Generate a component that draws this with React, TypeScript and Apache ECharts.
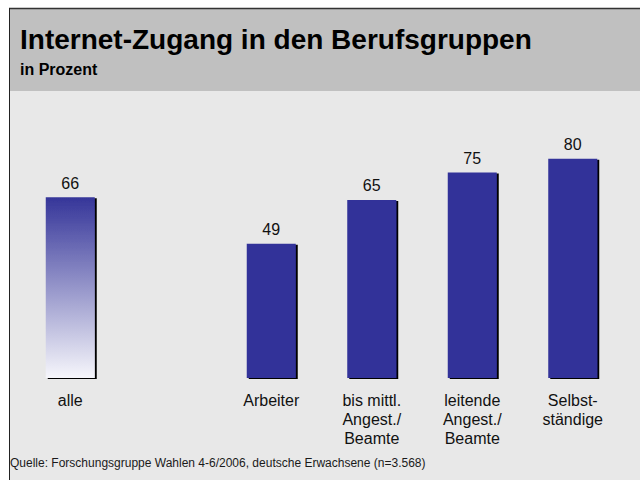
import React, { useEffect, useRef } from "react";
import * as echarts from "echarts";

const categories = ["alle", "", "Arbeiter", "bis mittl.\nAngest./\nBeamte", "leitende\nAngest./\nBeamte", "Selbst-\nständige"];
const values: (number | null)[] = [66, null, 49, 65, 75, 80];
const title = "Internet-Zugang in den Berufsgruppen";
const subtitle = "in Prozent";
const source = "Quelle: Forschungsgruppe Wahlen 4-6/2006, deutsche Erwachsene (n=3.568)";

export default function App() {
  const ref = useRef<HTMLDivElement>(null);
  useEffect(() => {
    if (!ref.current) return;
    const chart = echarts.init(ref.current, null, { renderer: "svg" });
    const font = "'Liberation Sans', Arial, sans-serif";
    const data = values.map((v, i) => {
      if (v === null) return "-";
      if (i === 0) {
        return {
          value: v,
          itemStyle: {
            color: new echarts.graphic.LinearGradient(0, 0, 0, 1, [
              { offset: 0, color: "#353599" },
              { offset: 1, color: "#f6f6fb" },
            ]),
          },
        };
      }
      return v;
    });
    chart.setOption({
      animation: false,
      backgroundColor: "#ffffff",
      graphic: [
        { type: "rect", shape: { x: 9, y: 8, width: 640, height: 83 }, style: { fill: "#c0c0c0" }, z: -10 },
        { type: "rect", shape: { x: 9, y: 91, width: 640, height: 400 }, style: { fill: "#e8e8e8" }, z: -10 },
        { type: "line", shape: { x1: 9, y1: 8.5, x2: 640, y2: 8.5 }, style: { stroke: "#333333", lineWidth: 1.5 }, z: -5 },
        { type: "line", shape: { x1: 9.5, y1: 8, x2: 9.5, y2: 480 }, style: { stroke: "#222222", lineWidth: 1 }, z: -5 },
        {
          type: "text",
          left: 20,
          top: 25,
          style: { text: title, font: `bold 28px ${font}`, fill: "#000000" },
        },
        {
          type: "text",
          left: 20,
          top: 61,
          style: { text: subtitle, font: `bold 16px ${font}`, fill: "#000000" },
        },
        {
          type: "text",
          left: 10,
          top: 457,
          style: { text: source, font: `12px ${font}`, fill: "#1a1a1a" },
        },
      ],
      grid: { left: 20, right: 17, top: 104, bottom: 102, containLabel: false },
      xAxis: {
        type: "category",
        data: categories,
        axisLine: { show: false },
        axisTick: { show: false },
        axisLabel: {
          interval: 0,
          fontFamily: font,
          fontSize: 16,
          lineHeight: 19,
          color: "#111111",
          margin: 13,
          verticalAlign: "top",
        },
      },
      yAxis: { type: "value", min: 0, max: 100, show: false, splitLine: { show: false } },
      series: [
        {
          type: "bar",
          data,
          barWidth: 49,
          itemStyle: {
            color: "#333399",
            shadowColor: "#000000",
            shadowOffsetX: 2,
            shadowOffsetY: 1,
            shadowBlur: 0,
          },
          label: {
            show: true,
            position: "top",
            distance: 6,
            fontFamily: font,
            fontSize: 16,
            color: "#111111",
          },
        },
      ],
    });
    return () => chart.dispose();
  }, []);
  return <div ref={ref} style={{ position: "absolute", left: 0, top: 0, width: 640, height: 480 }} />;
}
